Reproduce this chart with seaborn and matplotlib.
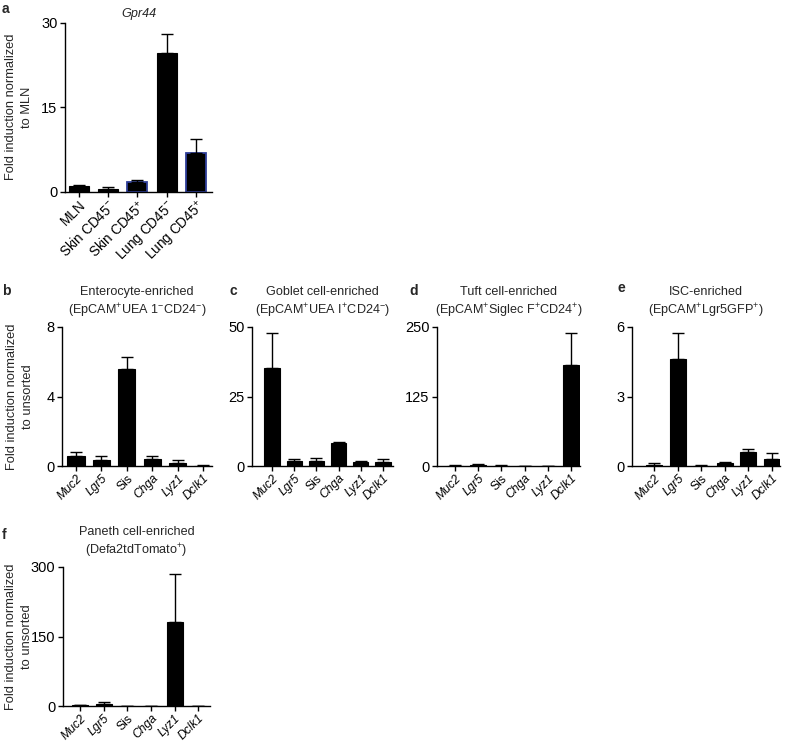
import numpy as np
import matplotlib
matplotlib.use("Agg")
import matplotlib.pyplot as plt
from matplotlib.transforms import ScaledTranslation
import seaborn as sns

sns.set_theme(style="ticks")
plt.rcParams["font.family"] = ["Liberation Sans", "DejaVu Sans"]
plt.rcParams["mathtext.fontset"] = "custom"
plt.rcParams["mathtext.rm"] = "Liberation Sans"
plt.rcParams["mathtext.it"] = "Liberation Sans:italic"
plt.rcParams["mathtext.bf"] = "Liberation Sans:bold"
plt.rcParams["axes.linewidth"] = 1.0
plt.rcParams["xtick.major.width"] = 1.0
plt.rcParams["ytick.major.width"] = 1.0
plt.rcParams["xtick.major.size"] = 3.5
plt.rcParams["ytick.major.size"] = 3.5
plt.rcParams["xtick.color"] = "black"
plt.rcParams["ytick.color"] = "black"
plt.rcParams["axes.edgecolor"] = "black"

# ---------------- data ----------------
a_cats = ["MLN", "Skin CD45$^{-}$", "Skin CD45$^{+}$", "Lung CD45$^{-}$", "Lung CD45$^{+}$"]
a_vals = [1.0, 0.5, 1.7, 24.7, 6.8]
a_errs = [0.2, 0.25, 0.4, 3.3, 2.6]
a_blue = [False, False, True, False, True]

genes = ["Muc2", "Lgr5", "Sis", "Chga", "Lyz1", "Dclk1"]

b_vals = [0.58, 0.37, 5.6, 0.42, 0.19, 0.02]
b_errs = [0.23, 0.19, 0.7, 0.14, 0.18, 0.04]

c_vals = [35.2, 1.7, 1.9, 8.3, 1.3, 1.6]
c_errs = [12.8, 0.9, 1.0, 0.5, 0.6, 1.0]

d_vals = [0.6, 2.5, 0.8, 0.4, 0.1, 181.0]
d_errs = [0.6, 1.8, 0.7, 0.3, 0.1, 59.0]

e_vals = [0.06, 4.6, 0.02, 0.12, 0.62, 0.32]
e_errs = [0.06, 1.12, 0.02, 0.05, 0.1, 0.22]

f_vals = [1.5, 4.5, 0.6, 0.2, 181.5, 0.0]
f_errs = [1.2, 3.5, 0.4, 0.2, 103.5, 0.0]

W, H = 792, 744
fig = plt.figure(figsize=(W / 100, H / 100), dpi=100)


def make_ax(left, right, top, bottom):
    return fig.add_axes([left / W, 1 - bottom / H, (right - left) / W, (bottom - top) / H])


def draw(ax, cats, vals, errs, yticks, xlim, blue=None, italic=True, title=None,
         title_style="normal", title_pad=9, ylabel=None, ylab_x=-0.2, xfs=8.7):
    sns.barplot(x=list(range(len(cats))), y=vals, color="black", ax=ax,
                width=0.68, errorbar=None, saturation=1, native_scale=False)
    for p in ax.patches:
        p.set_facecolor("black")
        p.set_edgecolor("black")
        p.set_linewidth(0.8)
    if blue is not None:
        for p, b in zip(ax.patches, blue):
            if b:
                p.set_edgecolor("#2f3f9a")
                p.set_linewidth(1.3)
    ax.errorbar(list(range(len(cats))), vals, yerr=[np.zeros(len(vals)), errs],
                fmt="none", ecolor="black", elinewidth=1.0, capsize=4, capthick=1.0, zorder=1)
    ax.set_ylim(0, yticks[-1])
    ax.set_yticks(yticks)
    ax.set_yticklabels([str(t) for t in yticks], fontsize=10.5)
    ax.set_xlim(*xlim)
    ax.set_xticks(list(range(len(cats))))
    ax.set_xticklabels(cats, rotation=45, ha="right", va="top",
                       rotation_mode="anchor", fontsize=xfs)
    shift = ScaledTranslation(7 / 100, 0, fig.dpi_scale_trans)
    for i, lab in enumerate(ax.get_xticklabels()):
        lab.set_transform(lab.get_transform() + shift)
        if italic:
            lab.set_style("normal" if cats[i] == "Sis" else "italic")
    ax.tick_params(axis="x", pad=1)
    ax.tick_params(axis="y", pad=2)
    sns.despine(ax=ax)
    ax.set_xlabel("")
    if title is not None:
        ax.set_title(title, fontsize=9.1, pad=title_pad, style=title_style, linespacing=1.35)
    if ylabel is not None:
        ax.set_ylabel(ylabel, fontsize=9.3, linespacing=1.45)
        ax.yaxis.set_label_coords(ylab_x, 0.5)
    else:
        ax.set_ylabel("")


ax_a = make_ax(65, 212, 22.7, 191.7)
draw(ax_a, a_cats, a_vals, a_errs, [0, 15, 30], (-0.47, 4.54), blue=a_blue, italic=False,
     title="Gpr44", title_style="italic", title_pad=4,
     ylabel="Fold induction normalized\nto MLN", ylab_x=-(65 - 33) / 147, xfs=9.8)

ax_b = make_ax(62, 212, 327, 466)
draw(ax_b, genes, b_vals, b_errs, [0, 4, 8], (-0.55, 5.35),
     title="Enterocyte-enriched\n(EpCAM$^{+}$UEA 1$^{-}$CD24$^{-}$)",
     ylabel="Fold induction normalized\nto unsorted", ylab_x=-(62 - 34) / 150)

ax_c = make_ax(252, 393, 327, 466)
draw(ax_c, genes, c_vals, c_errs, [0, 25, 50], (-0.9, 5.45),
     title="Goblet cell-enriched\n(EpCAM$^{+}$UEA I$^{+}$CD24$^{-}$)")

ax_d = make_ax(437, 580, 327, 466)
draw(ax_d, genes, d_vals, d_errs, [0, 125, 250], (-0.78, 5.39),
     title="Tuft cell-enriched\n(EpCAM$^{+}$Siglec F$^{+}$CD24$^{+}$)")

ax_e = make_ax(632, 780, 327, 466)
draw(ax_e, genes, e_vals, e_errs, [0, 3, 6], (-0.95, 5.35),
     title="ISC-enriched\n(EpCAM$^{+}$Lgr5GFP$^{+}$)")

ax_f = make_ax(63, 210, 567, 706)
draw(ax_f, genes, f_vals, f_errs, [0, 150, 300], (-0.72, 5.5),
     title="Paneth cell-enriched\n(Defa2tdTomato$^{+}$)",
     ylabel="Fold induction normalized\nto unsorted", ylab_x=-(63 - 33) / 147)

for lab, x, y in [("a", 2, 2), ("b", 2, 284), ("c", 229, 284), ("d", 409, 284),
                  ("e", 617, 281), ("f", 2, 528)]:
    fig.text(x / W, 1 - y / H, lab, fontsize=10, fontweight="bold", ha="left", va="top")

fig.savefig("out.png", dpi=100, facecolor="white")
